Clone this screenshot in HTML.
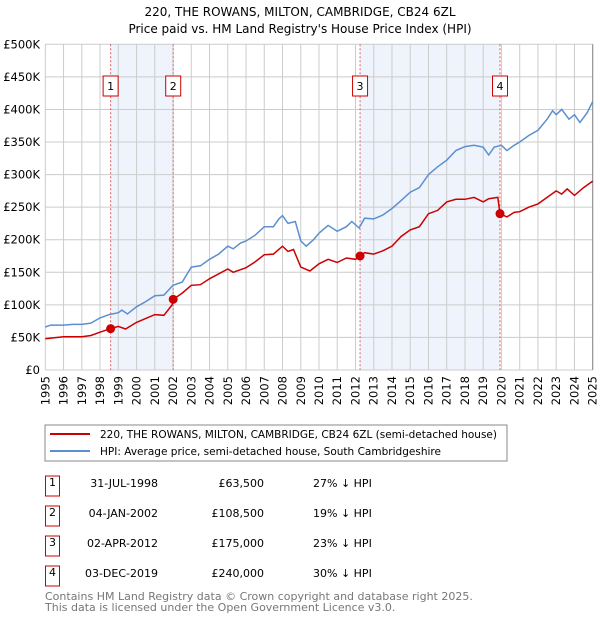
<!DOCTYPE html>
<html><head><meta charset="utf-8"><style>
body{margin:0;background:#fff;font-family:"DejaVu Sans","Liberation Sans",sans-serif;}
svg text{font-family:"DejaVu Sans","Liberation Sans",sans-serif;}
</style></head><body>
<svg width="600" height="620" viewBox="0 0 600 620">
<text x="300" y="16" text-anchor="middle" font-size="12">220, THE ROWANS, MILTON, CAMBRIDGE, CB24 6ZL</text>
<text x="300" y="33" text-anchor="middle" font-size="12">Price paid vs. HM Land Registry's House Price Index (HPI)</text>
<g id="plot"></g>
<rect x="45" y="425" width="462" height="36" fill="#fff" stroke="#888"/>
<line x1="50" y1="434" x2="90" y2="434" stroke="#cc0000" stroke-width="2"/>
<text x="100" y="438" font-size="10.5" textLength="397" lengthAdjust="spacingAndGlyphs">220, THE ROWANS, MILTON, CAMBRIDGE, CB24 6ZL (semi-detached house)</text>
<line x1="50" y1="451" x2="90" y2="451" stroke="#5b8fd0" stroke-width="2"/>
<text x="100" y="455" font-size="10.5" textLength="341" lengthAdjust="spacingAndGlyphs">HPI: Average price, semi-detached house, South Cambridgeshire</text>
<g id="table"></g>
<text x="45" y="600" font-size="11" fill="#777">Contains HM Land Registry data © Crown copyright and database right 2025.</text>
<text x="45" y="611" font-size="11" fill="#777">This data is licensed under the Open Government Licence v3.0.</text>
</svg>
<script>
const yearTicks=[1995,1996,1997,1998,1999,2000,2001,2002,2003,2004,2005,2006,2007,2008,2009,2010,2011,2012,2013,2014,2015,2016,2017,2018,2019,2020,2021,2022,2023,2024,2025];
const yTicks=[0,50000,100000,150000,200000,250000,300000,350000,400000,450000,500000];
const yTickLabels=["£0","£50K","£100K","£150K","£200K","£250K","£300K","£350K","£400K","£450K","£500K"];
const hpiDates=[1995,1995.3,1996,1996.5,1997,1997.5,1998,1998.5,1999,1999.2,1999.5,2000,2000.5,2001,2001.5,2002,2002.5,2003,2003.5,2004,2004.5,2005,2005.3,2005.7,2006,2006.5,2007,2007.5,2007.8,2008,2008.3,2008.7,2009,2009.3,2009.7,2010,2010.5,2011,2011.5,2011.8,2012.2,2012.5,2013,2013.5,2014,2014.5,2015,2015.5,2016,2016.5,2017,2017.5,2018,2018.5,2019,2019.3,2019.6,2020,2020.3,2020.7,2021,2021.5,2022,2022.5,2022.8,2023,2023.3,2023.7,2024,2024.3,2024.7,2025];
const hpiValues=[66,69,69,70,70,72,80,85,88,92,86,97,105,114,115,130,135,158,160,170,178,190,186,195,198,207,220,220,232,237,225,228,198,190,200,210,222,213,220,228,218,233,232,238,248,260,273,280,300,312,322,337,343,345,342,330,342,345,337,345,350,360,368,385,398,392,400,385,392,380,395,412];
const priceDates=[1995,1996,1997,1997.5,1998,1998.58,1999,1999.4,2000,2001,2001.5,2001.95,2002.01,2002.5,2003,2003.5,2004,2005,2005.3,2006,2006.5,2007,2007.5,2008,2008.3,2008.6,2009,2009.5,2010,2010.5,2011,2011.5,2012,2012.25,2012.5,2013,2013.5,2014,2014.5,2015,2015.5,2016,2016.5,2017,2017.5,2018,2018.5,2019,2019.3,2019.8,2019.92,2020.3,2020.7,2021,2021.5,2022,2022.5,2023,2023.3,2023.6,2024,2024.5,2025];
const priceValues=[48,51,51,53,58,63.5,67,63,73,85,84,100,108.5,118,130,131,140,155,150,157,166,177,178,190,182,185,158,152,163,170,165,172,170,175,180,178,183,190,205,215,220,240,245,258,262,262,265,258,263,265,240,235,242,243,250,255,265,275,270,278,268,280,290];
const saleDates=[1998.58,2002.01,2012.25,2019.92];
const salePrices=[63500,108500,175000,240000];
const saleLabels=["1","2","3","4"];
const saleDateText=["31-JUL-1998","04-JAN-2002","02-APR-2012","03-DEC-2019"];
const salePriceText=["£63,500","£108,500","£175,000","£240,000"];
const salePctText=["27% ↓ HPI","19% ↓ HPI","23% ↓ HPI","30% ↓ HPI"];
const NS="http://www.w3.org/2000/svg";
const X0=45.3,X1=592.7,Y0=370,Y1=44.3;
const xs=t=>X0+(t-1995)/30*(X1-X0);
const ys=v=>Y0-v/500000*(Y0-Y1);
function mk(tag,attrs,parent){const e=document.createElementNS(NS,tag);for(const k in attrs)e.setAttribute(k,attrs[k]);parent.appendChild(e);return e;}
const plot=document.getElementById('plot');
for(let i=0;i<saleDates.length;i+=2){
 const r=mk('rect',{x:xs(saleDates[i]),y:Y1,width:xs(saleDates[i+1])-xs(saleDates[i]),height:Y0-Y1,fill:'#eef3fc'},plot);
 
 
}
yTicks.forEach((v,i)=>{
 const l=mk('line',{x1:X0,x2:X1,y1:ys(v),y2:ys(v),stroke:'#ccc'},plot);
 
 
 const t=mk('text',{x:40,y:ys(v)+4,'text-anchor':'end','font-size':'11.5'},plot);
 t.textContent=yTickLabels[i];
 
 
});
yearTicks.forEach(y=>{
 const l=mk('line',{x1:xs(y),x2:xs(y),y1:Y1,y2:Y0,stroke:'#ccc'},plot);
 
 
 const t=mk('text',{x:0,y:0,'text-anchor':'end','font-size':'11.5',transform:`translate(${xs(y)+4},${Y0+6}) rotate(-90)`},plot);
 t.textContent=y;
 
 
});
const ax=mk('line',{x1:X1,x2:X1,y1:Y1,y2:Y0,stroke:'#888'},plot);


saleDates.forEach((d,i)=>{
 const l=mk('line',{x1:xs(d),x2:xs(d),y1:Y1,y2:Y0,stroke:'#e06060','stroke-dasharray':'2,2'},plot);
 
 
});
function path(dates,vals,color,name,mult){
 const p=mk('path',{d:dates.map((d,i)=>(i?'L':'M')+xs(d).toFixed(1)+','+ys(vals[i]*mult).toFixed(1)).join(''),fill:'none',stroke:color,'stroke-width':1.5},plot);
 
 
}
path(hpiDates,hpiValues,'#5b8fd0','hpi-line',1000);
path(priceDates,priceValues,'#cc0000','price-paid-line',1000);
saleDates.forEach((d,i)=>{
 const c=mk('circle',{cx:xs(d),cy:ys(salePrices[i]),r:4.5,fill:'#cc0000'},plot);
 
 
 const r=mk('rect',{x:xs(d)-7.5,y:76,width:15,height:20,fill:'#fff',stroke:'#cc0000'},plot);
 
 
 const t=mk('text',{x:xs(d),y:90,'text-anchor':'middle','font-size':'11'},plot);
 t.textContent=saleLabels[i];
 
 
});
const tb=document.getElementById('table');
saleLabels.forEach((s,i)=>{
 const cy=486+i*30;
 const r=mk('rect',{x:45.5,y:cy-10,width:14,height:20,fill:'#fff',stroke:'#cc0000'},tb);
 
 
 const t0=mk('text',{x:52.5,y:cy,'text-anchor':'middle','font-size':'11'},tb);t0.textContent=s;
 
 
 const t1=mk('text',{x:158,y:cy+1,'text-anchor':'end','font-size':'11'},tb);t1.textContent=saleDateText[i];
 
 
 const t2=mk('text',{x:264,y:cy+1,'text-anchor':'end','font-size':'11'},tb);t2.textContent=salePriceText[i];
 
 
 const t3=mk('text',{x:313,y:cy+1,'font-size':'11'},tb);t3.textContent=salePctText[i];
 
 
});
</script>
</body></html>
